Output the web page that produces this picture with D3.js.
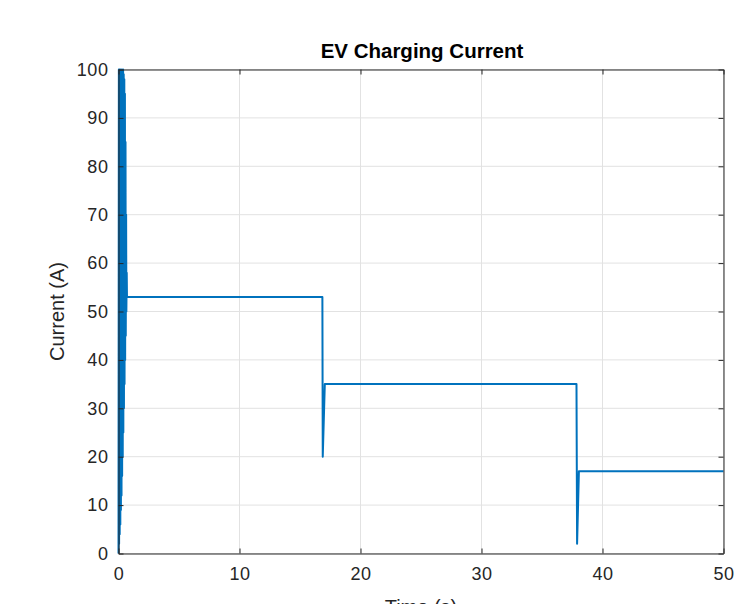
<!DOCTYPE html>
<html>
<head>
<meta charset="utf-8">
<script src="https://cdn.jsdelivr.net/npm/d3@7"></script>
<style>
  html, body { margin: 0; padding: 0; background: #fff; }
  svg { display: block; font-family: "Liberation Sans", Arial, Helvetica, sans-serif; }
</style>
</head>
<body>
<svg id="chart" width="736" height="604"></svg>
<script>
// Charging current samples: time (s) and current (A)
const timeS = [
  0.00, 0.03, 0.05, 0.08, 0.10, 0.13, 0.15, 0.18, 0.20, 0.23,
  0.25, 0.28, 0.30, 0.33, 0.35, 0.38, 0.40, 0.43, 0.45, 0.48,
  0.50, 0.53, 0.55, 0.58, 0.60, 0.63, 0.65, 0.68, 0.70,
  5.0, 10.0, 16.85, 16.88, 17.05, 25.0, 37.85, 37.9, 38.05, 45.0, 50.0
];
const currentA = [
  0, 100, 2, 100, 4, 99, 6, 100, 9, 99,
  12, 100, 16, 99, 20, 100, 25, 99, 30, 98,
  35, 95, 40, 85, 45, 70, 50, 58, 53,
  53, 53, 53, 20, 35, 35, 35, 2, 17, 17, 17
];
const xTicks = [0, 10, 20, 30, 40, 50];
const yTicks = [0, 10, 20, 30, 40, 50, 60, 70, 80, 90, 100];

const titleText = "EV Charging Current";
const xLabel = "Time (s)";
const yLabel = "Current (A)";

const margin = { left: 118.5, right: 12.5, top: 69.5, bottom: 50.5 };
const W = 736, H = 604;
const iw = W - margin.left - margin.right;
const ih = H - margin.top - margin.bottom;

const svg = d3.select("#chart");
const g = svg.append("g").attr("transform", `translate(${margin.left},${margin.top})`);

const x = d3.scaleLinear().domain([0, 50]).range([0, iw]);
const y = d3.scaleLinear().domain([0, 100]).range([ih, 0]);

const axisColor = "#262626";
const gridColor = "#e2e2e2";

// grid
g.append("g").selectAll("line").data(xTicks).join("line")
  .attr("x1", d => x(d)).attr("x2", d => x(d))
  .attr("y1", 0).attr("y2", ih)
  .attr("stroke", gridColor).attr("stroke-width", 1);
g.append("g").selectAll("line").data(yTicks).join("line")
  .attr("x1", 0).attr("x2", iw)
  .attr("y1", d => y(d)).attr("y2", d => y(d))
  .attr("stroke", gridColor).attr("stroke-width", 1);

// data line
const pts = timeS.map((t, i) => [t, currentA[i]]);
g.append("path")
  .datum(pts)
  .attr("fill", "none")
  .attr("stroke", "#0072BD")
  .attr("stroke-width", 2)
  .attr("stroke-linejoin", "round")
  .attr("d", d3.line().x(d => x(d[0])).y(d => y(d[1])));

// axes (ticks pointing inward, box on)
const tickLen = 5;
function styleAxis(sel) {
  sel.select(".domain").attr("stroke", axisColor).attr("stroke-width", 1);
  sel.selectAll(".tick line").attr("stroke", axisColor);
  sel.selectAll(".tick text").attr("fill", axisColor)
    .style("font-size", "18px").style("letter-spacing", "0.6px");
}
const xb = g.append("g").attr("transform", `translate(0,${ih})`)
  .call(d3.axisBottom(x).tickValues(xTicks).tickSizeInner(-tickLen).tickSizeOuter(0).tickPadding(14));
styleAxis(xb);
const xt = g.append("g")
  .call(d3.axisTop(x).tickValues(xTicks).tickSizeInner(-tickLen).tickSizeOuter(0).tickFormat(""));
styleAxis(xt);
const yl = g.append("g")
  .call(d3.axisLeft(y).tickValues(yTicks).tickSizeInner(-tickLen).tickSizeOuter(0).tickPadding(10));
styleAxis(yl);
const yr = g.append("g").attr("transform", `translate(${iw},0)`)
  .call(d3.axisRight(y).tickValues(yTicks).tickSizeInner(-tickLen).tickSizeOuter(0).tickFormat(""));
styleAxis(yr);

// title and labels
svg.append("text")
  .attr("x", margin.left + iw / 2 + 1).attr("y", 58)
  .attr("text-anchor", "middle")
  .attr("fill", "#000").style("font-size", "20.5px").style("font-weight", "bold")
  .text(titleText);
svg.append("text")
  .attr("x", margin.left + iw / 2).attr("y", 614)
  .attr("text-anchor", "middle")
  .attr("fill", axisColor).style("font-size", "20px")
  .text(xLabel);
svg.append("text")
  .attr("transform", `translate(64,${margin.top + ih / 2}) rotate(-90)`)
  .attr("text-anchor", "middle")
  .attr("fill", axisColor).style("font-size", "20px")
  .text(yLabel);
</script>
</body>
</html>
